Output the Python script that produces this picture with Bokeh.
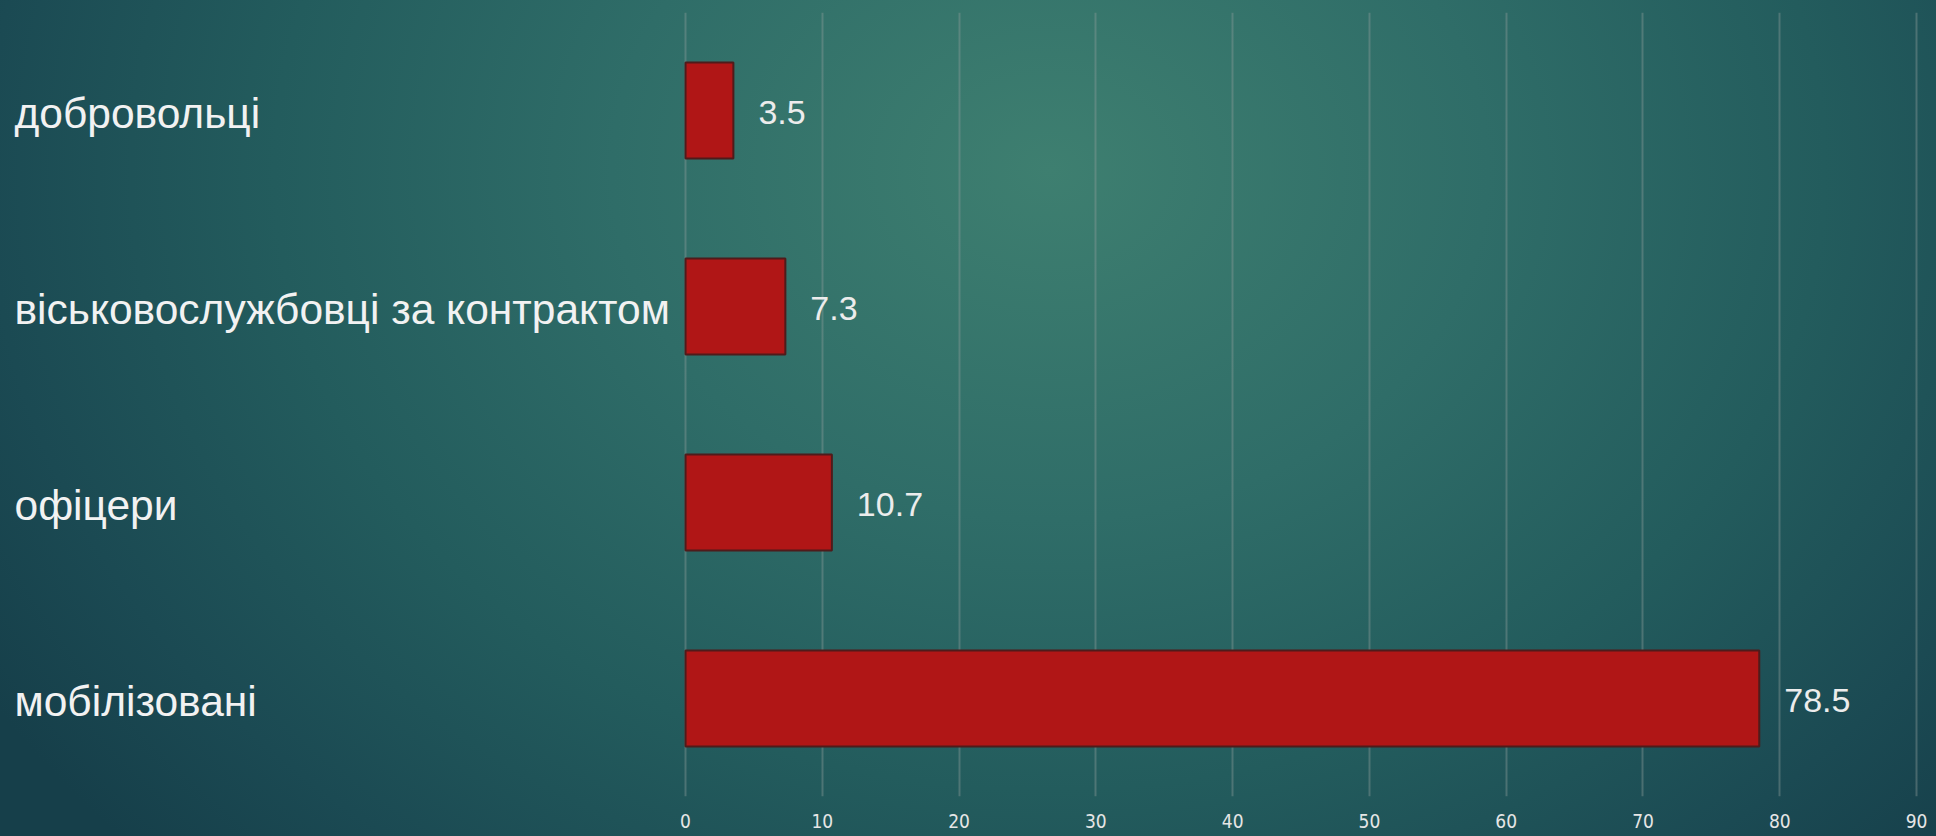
from bokeh.plotting import figure
from bokeh.models import ColumnDataSource, FixedTicker, Range1d, FactorRange, GlobalInlineStyleSheet
from bokeh.core.properties import value
from bokeh.embed import file_html
from bokeh.resources import INLINE

# ---- data ----
categories = ["добровольці", "віськовослужбовці за контрактом", "офіцери", "мобілізовані"]
values = [3.5, 7.3, 10.7, 78.5]
value_labels = ["3.5", "7.3", "10.7", "78.5"]
tick_values = [0, 10, 20, 30, 40, 50, 60, 70, 80, 90]

# ---- layout ----
X_START, X_END = -50.08, 90.58

src = ColumnDataSource(dict(cat=categories, val=values, lab=value_labels,
                            x0=[X_START] * len(categories)))

p = figure(width=1936, height=836,
           y_range=FactorRange(*reversed(categories)),
           x_range=Range1d(X_START, X_END),
           output_backend="svg", toolbar_location=None,
           y_axis_location=None,
           min_border_left=0, min_border_right=12, min_border_top=12, min_border_bottom=40,
           background_fill_alpha=0, border_fill_alpha=0, outline_line_color=None)

p.stylesheets = [GlobalInlineStyleSheet(css="""
html { min-height: 100%; overflow: hidden;
  background-color: #1a4852;
  background-image: radial-gradient(ellipse 1250px 1000px at 1050px 170px,
      #3e7f70 0%, #2f6d68 35%, #235c5d 62%, #1b4a53 85%, #163f4a 100%);
  background-repeat: no-repeat; }
body { background: transparent; margin: 0; overflow: hidden; }
""")]

# grid
p.ygrid.grid_line_color = None
p.xgrid.ticker = FixedTicker(ticks=tick_values)
p.xgrid.grid_line_color = "#8f9e9a"
p.xgrid.grid_line_alpha = 0.4
p.xgrid.grid_line_width = 2

# x axis
ax = p.xaxis[0]
ax.ticker = FixedTicker(ticks=tick_values)
ax.axis_line_color = None
ax.major_tick_line_color = None
ax.minor_tick_line_color = None
ax.major_tick_out = 0
ax.major_tick_in = 0
ax.major_label_standoff = 17
ax.major_label_text_font = "'Liberation Sans Narrow', 'DejaVu Sans Condensed', sans-serif"
ax.major_label_text_font_size = "19px"
ax.major_label_text_color = "#e6e6e6"

# bars
p.hbar(y="cat", right="val", left=0, height=0.49, source=src,
       fill_color="#b01616", line_color="#4f1b1b", line_width=2)

# value labels
p.text(x="val", y="cat", text="lab", source=src, x_offset=25, y_offset=2,
       text_baseline="middle", text_align="left",
       text_font=value("Liberation Sans"), text_font_size="34px",
       text_color="#ececec")

# category labels
p.text(x="x0", y="cat", text="cat", source=src, x_offset=14, y_offset=3,
       text_baseline="middle", text_align="left",
       text_font=value("Liberation Sans"), text_font_size="42.5px",
       text_color="#f2f2f2")

open("out.html", "w").write(file_html(p, INLINE))
